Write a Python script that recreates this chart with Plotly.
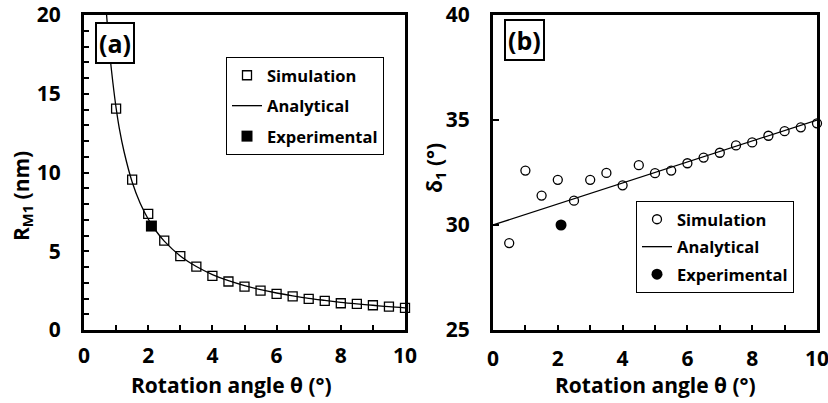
import plotly.graph_objects as go

# ---- panel (a): moiré radius vs rotation angle ----
sim_theta = [1.0, 1.5, 2.0, 2.5, 3.0, 3.5, 4.0, 4.5, 5.0, 5.5, 6.0, 6.5, 7.0,
             7.5, 8.0, 8.5, 9.0, 9.5, 10.0]
sim_rm1 = [14.06, 9.55, 7.37, 5.67, 4.69, 4.03, 3.44, 3.08, 2.76, 2.50, 2.29,
           2.14, 1.97, 1.85, 1.70, 1.66, 1.57, 1.48, 1.40]
ana_theta_a = [0.7, 0.8, 0.9, 1.0, 1.1, 1.25, 1.5, 1.75, 2.0, 2.25, 2.5, 3.0,
               3.5, 4.0, 4.5, 5.0, 5.5, 6.0, 6.5, 7.0, 7.5, 8.0, 8.5, 9.0,
               9.5, 10.0]
ana_rm1 = [20.1, 17.6, 15.7, 14.1, 12.8, 11.3, 9.4, 8.05, 7.05, 6.27, 5.64,
           4.70, 4.03, 3.52, 3.13, 2.82, 2.56, 2.35, 2.17, 2.01, 1.88, 1.76,
           1.66, 1.57, 1.48, 1.41]
exp_theta_a = [2.1]
exp_rm1 = [6.6]

# ---- panel (b): delta_1 vs rotation angle ----
sim_theta_b = [0.5, 1.0, 1.5, 2.0, 2.5, 3.0, 3.5, 4.0, 4.5, 5.0, 5.5, 6.0,
               6.5, 7.0, 7.5, 8.0, 8.5, 9.0, 9.5, 10.0]
sim_delta = [29.14, 32.59, 31.40, 32.15, 31.16, 32.15, 32.48, 31.89, 32.85,
             32.47, 32.59, 32.94, 33.21, 33.44, 33.79, 33.93, 34.25, 34.47,
             34.65, 34.84]
ana_theta_b = [0.0, 10.0]
ana_delta = [30.0, 35.0]
exp_theta_b = [2.1]
exp_delta = [30.0]

FONT = "Open Sans"
W, H = 828, 403


def px(x):
    return x / W


def py(y):
    return 1 - y / H


fig = go.Figure()

# panel (a) traces
fig.add_trace(go.Scatter(
    x=sim_theta, y=sim_rm1, mode="markers", name="Simulation",
    marker=dict(symbol="square-open", size=9, color="black",
                line=dict(width=1.3, color="black")),
    cliponaxis=False, xaxis="x", yaxis="y", legend="legend",
    legendgroup="a1"))
fig.add_trace(go.Scatter(
    x=ana_theta_a, y=ana_rm1, mode="lines", name="Analytical",
    line=dict(color="black", width=1.3, shape="spline"),
    xaxis="x", yaxis="y", legend="legend", legendgroup="a2"))
fig.add_trace(go.Scatter(
    x=exp_theta_a, y=exp_rm1, mode="markers", name="Experimental",
    marker=dict(symbol="square", size=11, color="black"),
    xaxis="x", yaxis="y", legend="legend", legendgroup="a3"))

# panel (b) traces
fig.add_trace(go.Scatter(
    x=sim_theta_b, y=sim_delta, mode="markers", name="Simulation",
    marker=dict(symbol="circle-open", size=9, color="black",
                line=dict(width=1.3, color="black")),
    cliponaxis=False, xaxis="x2", yaxis="y2", legend="legend2",
    legendgroup="b1"))
fig.add_trace(go.Scatter(
    x=ana_theta_b, y=ana_delta, mode="lines", name="Analytical",
    line=dict(color="black", width=1.3),
    xaxis="x2", yaxis="y2", legend="legend2", legendgroup="b2"))
fig.add_trace(go.Scatter(
    x=exp_theta_b, y=exp_delta, mode="markers", name="Experimental",
    marker=dict(symbol="circle", size=11, color="black"),
    xaxis="x2", yaxis="y2", legend="legend2", legendgroup="b3"))

tickfont = dict(family=FONT, size=21, color="black", weight="bold")
axis_common = dict(showline=True, linewidth=3, linecolor="black", mirror=True,
                   showgrid=False, zeroline=False, ticks="inside",
                   tickwidth=2, tickcolor="black", tickfont=tickfont,
                   automargin=False, ticklabeloverflow="allow")
minor_ticks = dict(dtick=1, ticks="inside", ticklen=5, tickwidth=2,
                   tickcolor="black")

ydom = [py(330), py(15)]
legend_font = dict(family=FONT, size=16.5, color="black", weight="bold")
fig.update_layout(
    template="none",
    width=W, height=H,
    margin=dict(l=0, r=0, t=0, b=0, autoexpand=False),
    paper_bgcolor="white", plot_bgcolor="white",
    xaxis=dict(domain=[px(84), px(405)], range=[0, 10], dtick=2, ticklen=5,
               minor=minor_ticks, ticklabelstandoff=5, anchor="y",
               **axis_common),
    yaxis=dict(domain=ydom, range=[0, 20], dtick=5, ticklen=5,
               minor=minor_ticks, ticklabelstandoff=16, anchor="x",
               **axis_common),
    xaxis2=dict(domain=[px(493), px(817)], range=[0, 10], dtick=2, ticklen=5,
                minor=minor_ticks, ticklabelstandoff=8, anchor="y2",
                **axis_common),
    yaxis2=dict(domain=ydom, range=[25, 40], dtick=5, ticklen=6,
                ticklabelstandoff=16, anchor="x2", **axis_common),
    legend=dict(x=px(226), y=py(57), xanchor="left", yanchor="top",
                bgcolor="white", bordercolor="black", borderwidth=1,
                font=legend_font, traceorder="grouped", tracegroupgap=6),
    legend2=dict(x=px(636), y=py(201), xanchor="left", yanchor="top",
                 bgcolor="white", bordercolor="black", borderwidth=1,
                 font=legend_font, traceorder="grouped", tracegroupgap=3),
    showlegend=True,
)

titlefont = dict(family=FONT, size=21, color="black", weight="bold")
annotations = [
    dict(text="Rotation angle θ (°)", x=px(231), y=py(385), xref="paper",
         yref="paper", showarrow=False, font=titlefont,
         xanchor="center", yanchor="middle"),
    dict(text="Rotation angle θ (°)", x=px(655), y=py(385), xref="paper",
         yref="paper", showarrow=False, font=titlefont,
         xanchor="center", yanchor="middle"),
    dict(text="R<sub>M1</sub> (nm)", x=px(22), y=py(196), xref="paper",
         yref="paper", showarrow=False, font=titlefont, textangle=-90,
         xanchor="center", yanchor="middle"),
    dict(text="δ<sub>1</sub> (°)", x=px(435), y=py(168), xref="paper",
         yref="paper", showarrow=False, font=titlefont, textangle=-90,
         xanchor="center", yanchor="middle"),
    dict(text="(a)", x=px(115), y=py(43), xref="paper", yref="paper",
         showarrow=False, bgcolor="white", bordercolor="black",
         borderwidth=2, borderpad=2,
         font=dict(family=FONT, size=25, color="black", weight="bold"),
         xanchor="center", yanchor="middle"),
    dict(text="(b)", x=px(524), y=py(40), xref="paper", yref="paper",
         showarrow=False, bgcolor="white", bordercolor="black",
         borderwidth=2, borderpad=2,
         font=dict(family=FONT, size=25, color="black", weight="bold"),
         xanchor="center", yanchor="middle"),
]
fig.update_layout(annotations=annotations)

fig.write_html("out.html")
